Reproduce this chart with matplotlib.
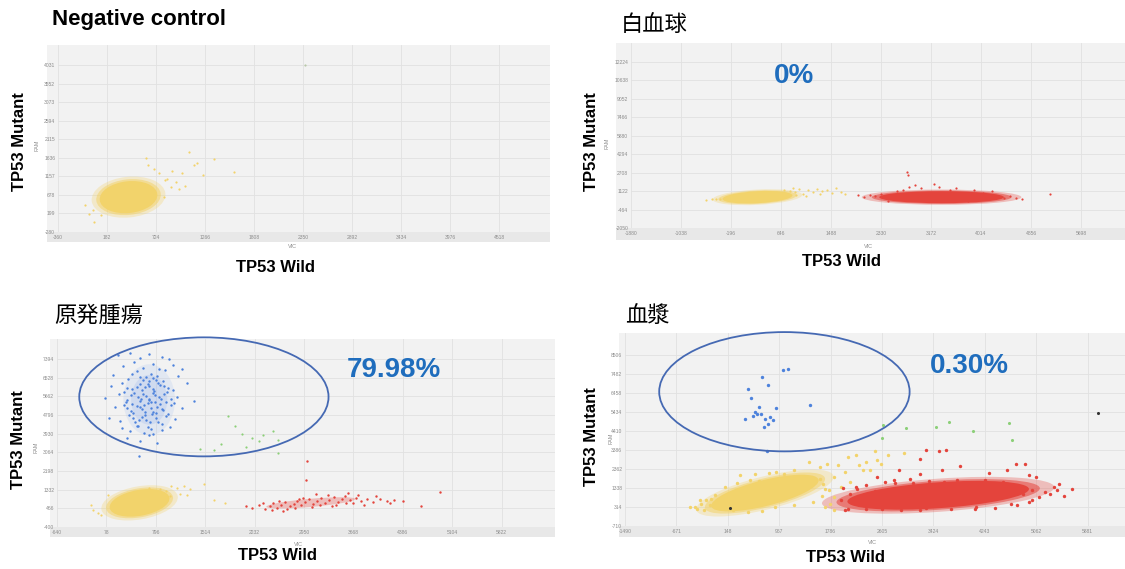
import numpy as np
import matplotlib
matplotlib.use('Agg')
import matplotlib.pyplot as plt
from matplotlib.patches import Ellipse, Rectangle
from matplotlib.transforms import Affine2D

plt.rcParams['font.family'] = ['Liberation Sans', 'Noto Sans CJK JP', 'DejaVu Sans']

W, H = 1125, 569

YELLOW = '#f2d36b'
RED = '#e4443c'
BLUE = '#4d82dc'
GREEN = '#8ccf78'
PANEL = '#f2f2f2'
BAND = '#e8e8e8'
NOTE = '#1f6dbd'
RING = '#4569b3'

# ---------------- Negative control ----------------
neg_xticks = [-360, 182, 724, 1266, 1808, 2350, 2892, 3434, 3976, 4518]
neg_yticks = [-280, 199, 678, 1157, 1636, 2115, 2594, 3073, 3552, 4031]
neg_yellow_cloud = [420, 620, 640, 820, 6]     # centre x, centre y, width, height, tilt
neg_yellow = np.array([
    [1090, 1791], [608, 1619], [1149, 1447], [1011, 1231], [1366, 1593], [1583, 1274],
    [892, 887], [813, 628], [-16, 197], [43, -18], [850, 1100], [950, 1000],
    [760, 1250], [700, 1350], [980, 820], [1050, 900], [900, 1300], [820, 1050],
    [-60, 420], [30, 300], [120, 150], [1240, 1180], [1180, 1500], [640, 1450]])
neg_other = np.array([[2373, 4031]])

# ---------------- 白血球 ----------------
wbc_xticks = [-1880, -1038, -196, 646, 1488, 2330, 3172, 4014, 4856, 5698]
wbc_yticks = [-2050, -464, 1122, 2708, 4294, 5880, 7466, 9052, 10638, 12224]
wbc_yellow_cloud = [250, 600, 1180, 1030, 3]
wbc_red_cloud = [3350, 600, 2100, 1030, 0]
wbc_yellow = np.array([
    [-620, 390], [-520, 420], [-450, 450], [-380, 470], [-300, 500], [720, 980],
    [800, 1150], [880, 1060], [950, 1280], [1020, 900], [1100, 1180], [1180, 1020],
    [1260, 1320], [1330, 1100], [1420, 1240], [1500, 980], [1580, 1400], [1650, 1050],
    [1720, 900], [760, 760], [900, 820], [1060, 700], [1300, 880], [700, 1220], [850, 1380]])
wbc_red = np.array([
    [1950, 760], [2050, 650], [2150, 820], [2230, 700], [2330, 900], [2420, 560],
    [2773, 2760], [2791, 2473], [2803, 1469], [3228, 1756], [2700, 1250], [3000, 1400],
    [3300, 1500], [3600, 1350], [3900, 1200], [4200, 1150], [4300, 620], [4400, 500],
    [4500, 700], [4600, 560], [4700, 480], [5169, 895], [2600, 1100], [2900, 1650],
    [3500, 1250], [4050, 1000], [2450, 300], [3800, 300]])

# ---------------- 原発腫瘍 ----------------
tumor_xticks = [-640, 78, 796, 1514, 2232, 2950, 3668, 4386, 5104, 5822]
tumor_yticks = [-400, 466, 1332, 2198, 3064, 3930, 4796, 5662, 6528, 7394]
tumor_yellow_cloud = [560, 720, 880, 1200, 10]
tumor_red_cloud = [3050, 720, 1300, 380, 5]
tumor_blue_cloud = [700, 5500, 750, 3300, 0]
tumor_yellow = np.array([
    [1021, 1488], [1100, 1400], [1200, 1500], [1300, 1350], [950, 1250], [1150, 1150],
    [-120, 400], [-50, 250], [100, 1100], [850, 1350], [1500, 1600], [1644, 870],
    [1800, 700], [1250, 1100], [700, 1400], [0, 150], [1000, 1050], [-150, 600]])
tumor_blue = np.array([
    [250, 7560], [420, 7680], [560, 7430], [700, 7620], [880, 7500], [990, 7390],
    [320, 7050], [480, 7250], [610, 6980], [760, 7180], [840, 6920], [1050, 7100], [1180, 6950],
    [180, 6650], [390, 6480], [520, 6820], [650, 6560], [720, 6700], [800, 6420], [930, 6880],
    [1120, 6600], [140, 6150], [300, 6300], [450, 5980], [560, 6220], [640, 6080], [700, 6350],
    [770, 5920], [860, 6180], [980, 6040], [1250, 6260], [60, 5600], [260, 5750], [380, 5480],
    [480, 5820], [580, 5550], [650, 5680], [720, 5420], [790, 5700], [870, 5520], [960, 5880],
    [1100, 5640], [1350, 5460], [200, 5150], [330, 5280], [430, 4980], [520, 5220], [600, 5060],
    [680, 5340], [750, 4920], [820, 5180], [900, 5030], [1010, 5260], [1180, 5100], [120, 4650],
    [280, 4520], [400, 4780], [500, 4450], [590, 4700], [660, 4580], [740, 4820], [830, 4480],
    [950, 4740], [1080, 4600], [300, 4200], [420, 4050], [540, 4300], [620, 3950], [720, 4150],
    [880, 4080], [1000, 4250], [380, 3750], [560, 3600], [700, 3850], [820, 3500], [554, 2880],
    [450, 6700], [560, 6550], [610, 6400], [680, 6250], [760, 6500], [820, 6620], [900, 6350],
    [380, 6050], [520, 6100], [600, 5950], [690, 6150], [750, 6000], [830, 6280], [920, 6120],
    [1040, 5950], [340, 5850], [430, 5700], [530, 5650], [610, 5780], [690, 5560], [760, 5830],
    [840, 5620], [920, 5750], [1020, 5540], [360, 5400], [450, 5320], [560, 5450], [630, 5250],
    [700, 5500], [780, 5380], [860, 5300], [940, 5420], [1060, 5350], [380, 5100], [470, 4900],
    [560, 5150], [640, 4950], [720, 5120], [800, 4880], [880, 5080], [970, 4850], [460, 4650],
    [550, 4550], [640, 4800], [710, 4450], [800, 4650], [890, 4400], [520, 4300], [680, 4250],
    [760, 3900]])
tumor_green = np.array([
    [1851, 4735], [1950, 4300], [2050, 3900], [2200, 3750], [2350, 3850], [2500, 4050],
    [2578, 3653], [1750, 3450], [2300, 3600], [1436, 3235], [1644, 3189], [2567, 3034],
    [2100, 3300]])
tumor_red = np.array([
    [2111, 560], [2200, 480], [2300, 620], [2380, 420], [2450, 560], [2500, 700],
    [2560, 500], [2620, 640], [2680, 760], [2740, 560], [2800, 680], [2850, 820],
    [2900, 600], [2960, 740], [3020, 880], [3080, 660], [3140, 800], [3200, 940],
    [3260, 720], [3320, 860], [3380, 1000], [3440, 780], [3500, 900], [3560, 700],
    [3620, 840], [3700, 960], [3780, 800], [3860, 900], [3950, 760], [4050, 880],
    [4150, 820], [4265, 870], [4395, 793], [4654, 561], [4924, 1210], [2993, 2648],
    [2983, 1767], [2480, 380], [2580, 820], [2700, 440], [2820, 500], [2940, 960],
    [3060, 520], [3180, 620], [3300, 1080], [3420, 640], [3540, 1050], [3660, 720],
    [3740, 1100], [2350, 700], [2650, 350], [2880, 920], [3120, 1150], [3350, 560],
    [3590, 1180], [3820, 640], [4000, 1020], [4200, 700]])

# ---------------- 血漿 ----------------
plasma_xticks = [-1490, -671, 148, 967, 1786, 2605, 3424, 4243, 5062, 5881]
plasma_yticks = [-710, 314, 1338, 2362, 3386, 4410, 5434, 6458, 7482, 8506]
plasma_yellow_cloud = [740, 1070, 1760, 1400, 14]
plasma_red_cloud = [3500, 950, 2900, 1400, 4]
plasma_blue = np.array([
    [1022, 7732], [1108, 7786], [689, 7336], [787, 6886], [471, 6670], [523, 6184],
    [1464, 5806], [649, 5698], [924, 5644], [580, 5428], [609, 5338], [672, 5320],
    [557, 5230], [420, 5050], [735, 5086], [827, 5176], [861, 4996], [787, 4816],
    [718, 4618], [775, 3322]])
plasma_green = np.array([
    [2622, 4726], [2983, 4600], [3465, 4636], [3672, 4906], [4062, 4402], [4623, 4852],
    [4675, 3916], [2610, 4042]])
plasma_dark = np.array([[6051, 5410], [190, 280]])
plasma_yellow = np.array([
    [1438, 2746], [1611, 2476], [1726, 2656], [1898, 2566], [2070, 3016], [2185, 3106],
    [2357, 2746], [2501, 3322], [2702, 3106], [2960, 3232], [1840, 1936], [2013, 2206],
    [922, 2206], [1209, 2296], [1496, 1936], [2300, 2296], [1611, 1846], [2415, 2296],
    [2587, 2656], [2242, 2566], [2529, 2836], [-370, 316], [-284, 496], [-342, 226],
    [-198, 676], [-112, 766], [-141, 406], [-227, 136], [-54, 946], [233, 136],
    [462, 46], [692, 100], [1840, 172], [347, 2026], [577, 2116], [807, 2152],
    [1036, 2080], [1266, 1936], [1438, 1666], [1668, 1576], [1754, 1216], [1840, 856],
    [1783, 496], [1697, 316], [100, 1400], [300, 1600], [500, 1750], [200, 800],
    [-450, 300], [-300, 700], [0, 300], [900, 300], [1200, 400], [1500, 600],
    [1650, 900], [1700, 1300], [1950, 1400], [2100, 1650], [1300, 1750], [950, 1850],
    [650, 1700], [400, 1300]])
plasma_red = np.array([
    [3218, 2926], [3305, 3412], [3506, 3322], [3620, 3412], [3850, 2530], [4309, 2152],
    [4597, 2296], [4740, 2620], [4884, 2656], [4941, 2026], [5056, 1936], [5429, 1576],
    [5630, 1306], [5400, 1216], [5286, 1036], [2817, 1612], [3046, 1846], [3735, 1216],
    [2070, 226], [2013, 136], [3218, 2116], [3793, 1756], [4539, 1666], [4367, 1396],
    [4999, 1216], [5113, 856], [4941, 586], [4654, 496], [2874, 2296], [2530, 1936],
    [2185, 1396], [1955, 676], [2357, 226], [3218, 136], [4080, 226], [4252, 1756],
    [3563, 2296], [2989, 1216], [2100, 1000], [2200, 1300], [2350, 1500], [2500, 1200],
    [2650, 1650], [2800, 1800], [3100, 1600], [3350, 1700], [3600, 1650], [3900, 1600],
    [4150, 1500], [4400, 1450], [4700, 1300], [4850, 1000], [5000, 700], [5200, 1100],
    [5500, 900], [2300, 400], [2600, 200], [2900, 150], [3300, 250], [3700, 200],
    [4100, 300], [4400, 250], [4750, 400], [1980, 1350], [5350, 1400], [2450, 900]])


def frac(l, t, r, b):
    return [l / W, 1 - b / H, (r - l) / W, (b - t) / H]


def make_axes(fig, area, back, xticks, yticks, xlim, ylim):
    l, t, r, b = back
    fig.add_artist(Rectangle((l / W, 1 - b / H), (r - l) / W, (b - t) / H,
                             transform=fig.transFigure, fc=PANEL, ec='none', zorder=-2))
    fig.add_artist(Rectangle((l / W, 1 - b / H), (r - l) / W, (b - area[3]) / H,
                             transform=fig.transFigure, fc=BAND, ec='none', zorder=-1))
    ax = fig.add_axes(frac(*area))
    ax.set_facecolor(PANEL)
    ax.set_xlim(*xlim)
    ax.set_ylim(*ylim)
    ax.set_xticks(xticks)
    ax.set_yticks(yticks)
    ax.set_xticklabels([str(v) for v in xticks])
    ax.set_yticklabels([str(v) for v in yticks])
    ax.tick_params(length=0, labelsize=3.6, labelcolor='#8c8c8c', pad=2)
    ax.grid(True, color='#e1e1e1', lw=0.6)
    ax.set_axisbelow(True)
    for s in ax.spines.values():
        s.set_visible(False)
    return ax


def cloud(ax, c, color, alpha=1.0, grow=1.0, z=2):
    # ellipse sized in data units along its own axes, tilted as seen on screen
    cx, cy, w, h, ang = c
    x0, x1 = ax.get_xlim()
    y0, y1 = ax.get_ylim()
    pos = ax.get_position()
    sx = (x1 - x0) / (pos.width * W)
    sy = (y1 - y0) / (pos.height * H)
    e = Ellipse((0, 0), w * grow / sx, h * grow / sy, angle=ang,
                fc=color, ec='none', alpha=alpha, zorder=z)
    e.set_transform(Affine2D().scale(sx, sy).translate(cx, cy) + ax.transData)
    ax.add_patch(e)


def soft_cloud(ax, c, color):
    cloud(ax, c, color, 0.3, 1.28)
    cloud(ax, c, color, 0.55, 1.12)
    cloud(ax, c, color)


def dots(ax, pts, color, s):
    ax.scatter(pts[:, 0], pts[:, 1], s=s, c=color, lw=0, zorder=3)


def ring(ax, cx, cy, w, h):
    ax.add_patch(Ellipse((cx, cy), w, h, fill=False, ec=RING, lw=1.3,
                         clip_on=False, zorder=5))


fig = plt.figure(figsize=(W / 100, H / 100), dpi=100)

# Negative control
ax1 = make_axes(fig, (58, 45, 550, 232), (47, 45, 550, 242),
                neg_xticks, neg_yticks, (-360, 5082), (-280, 4546))
soft_cloud(ax1, neg_yellow_cloud, YELLOW)
dots(ax1, neg_yellow, YELLOW, 2.5)
dots(ax1, neg_other, '#b8c8a8', 2.5)

# 白血球
ax2 = make_axes(fig, (631, 43, 1125, 228), (616, 43, 1125, 240),
                wbc_xticks, wbc_yticks, (-1880, 6439), (-2050, 13862))
soft_cloud(ax2, wbc_yellow_cloud, YELLOW)
soft_cloud(ax2, wbc_red_cloud, RED)
dots(ax2, wbc_yellow, YELLOW, 2.5)
dots(ax2, wbc_red, RED, 2.5)

# 原発腫瘍
ax3 = make_axes(fig, (57, 339, 555, 527), (50, 339, 555, 537),
                tumor_xticks, tumor_yticks, (-640, 6598), (-400, 8320))
soft_cloud(ax3, tumor_yellow_cloud, YELLOW)
cloud(ax3, tumor_blue_cloud, '#a9c0ee', 0.22)
cloud(ax3, tumor_blue_cloud, '#8fadea', 0.22, 0.7)
cloud(ax3, tumor_red_cloud, RED, 0.3)
dots(ax3, tumor_yellow, YELLOW, 2.5)
dots(ax3, tumor_blue, BLUE, 3)
dots(ax3, tumor_green, GREEN, 2.5)
dots(ax3, tumor_red, RED, 3)
ring(ax3, 1495, 5636, 3623, 5520)

# 血漿
ax4 = make_axes(fig, (625, 333, 1125, 526), (619, 333, 1125, 537),
                plasma_xticks, plasma_yticks, (-1490, 6477), (-710, 9714))
soft_cloud(ax4, plasma_yellow_cloud, YELLOW)
soft_cloud(ax4, plasma_red_cloud, RED)
dots(ax4, plasma_yellow, YELLOW, 6)
dots(ax4, plasma_red, RED, 6)
dots(ax4, plasma_blue, BLUE, 6)
dots(ax4, plasma_green, GREEN, 5)
dots(ax4, plasma_dark, '#333333', 5)
ring(ax4, 1050, 6542, 3990, 6443)


def put(s, x, y, **kw):
    fig.text(x / W, 1 - y / H, s, **kw)


put('Negative control', 52, 20, fontsize=16, fontweight='bold', va='center')
for s, x, y in [('白血球', 621, 25), ('原発腫瘍', 54, 315), ('血漿', 625, 316)]:
    put(s, x, y, fontsize=16, va='center', family=['Noto Sans CJK JP', 'DejaVu Sans'])

for x, y in [(20, 142), (592, 142), (19, 440), (592, 437)]:
    put('TP53 Mutant', x, y, fontsize=12, fontweight='bold', rotation=90,
        ha='center', va='center')
for x, y in [(276, 268), (841, 261), (277, 555), (846, 558)]:
    put('TP53 Wild', x, y, fontsize=12, fontweight='bold', ha='center', va='center')
for x, y in [(37, 145), (607, 143), (36, 447), (611, 438)]:
    put('FAM', x, y, fontsize=4, color='#8c8c8c', rotation=90, ha='center', va='center')
for x, y in [(292, 247), (868, 247), (298, 544), (872, 542)]:
    put('VIC', x, y, fontsize=4, color='#8c8c8c', ha='center', va='center')

for s, x, y in [('0%', 794, 76), ('79.98%', 394, 370), ('0.30%', 969, 366)]:
    put(s, x, y, fontsize=20, fontweight='bold', color=NOTE, ha='center', va='center')

fig.savefig('out.png', dpi=100)
